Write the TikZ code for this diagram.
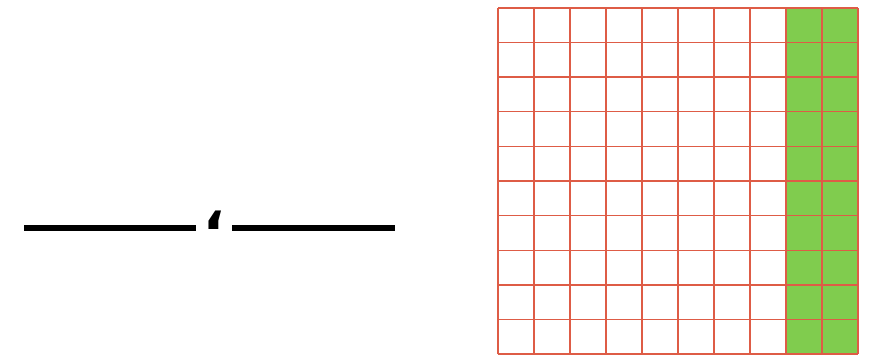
\documentclass[tikz,border=0pt]{standalone}
\usepackage{fontspec}
\newfontfamily\arabicfont[Script=Arabic]{DejaVu Sans}
\TeXXeTstate=1
\usetikzlibrary{positioning}
\definecolor{gridred}{RGB}{222,92,70}
\definecolor{cellgreen}{RGB}{128,204,78}

\begin{document}
\begin{tikzpicture}[
			x=1pt, y=1pt,
			blank_line/.style={line width=5.5pt, black},
			grid_line/.style={draw=gridred, line width=1.4pt},
			sep_mark/.style={inner sep=0pt, font=\arabicfont\bfseries\fontsize{56}{56}\selectfont}
			]
			
			% Frame
			\useasboundingbox (0,0) rectangle (874,359);
			
			% Blanks with decimal separator
			\node[sep_mark] (sep) at (214,139) {\beginR ،\endR};
			\coordinate (left_start) at (24,131);
			\coordinate (left_end) at (196,131);
			\coordinate (right_start) at (232,131);
			\coordinate (right_end) at (395,131);
			\draw[blank_line] (left_start) -- (left_end);
			\draw[blank_line] (right_start) -- (right_end);
			
			% Hundred square (10 x 10), last two columns shaded
			\coordinate (sq_sw) at (498,5);
			\coordinate (sq_ne) at (858,351);
			\fill[cellgreen] (786,5) rectangle (sq_ne);
			\foreach \i in {0,...,10} {
				\draw[grid_line] (498+36*\i,5) -- (498+36*\i,351);
				\draw[grid_line] (498,5+34.6*\i) -- (858,5+34.6*\i);
			}
			
		\end{tikzpicture}
\end{document}
